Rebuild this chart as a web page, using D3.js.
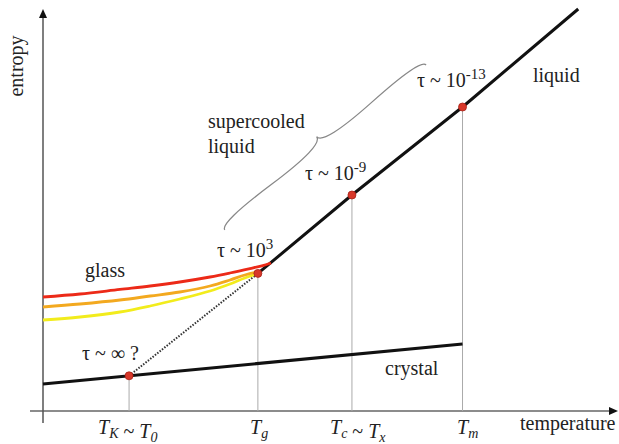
<!DOCTYPE html>
<html>
<head>
<meta charset="utf-8">
<script src="https://cdn.jsdelivr.net/npm/d3@7"></script>
<style>
  body { margin: 0; background: #fff; }
  svg text { font-family: "Liberation Serif", "Times New Roman", Times, "DejaVu Serif", serif; fill: #222; }
</style>
</head>
<body>
<script>
// temperature / entropy in arbitrary units (0..100 on both axes)
var tickNames = ['TK', 'Tg', 'Tc', 'Tm'];
var tickTemps = [15.1, 37.7, 54.2, 73.6];

var liquidT = [37.7, 54.2, 73.6, 93.9];
var liquidS = [34.4, 54.0, 76.0, 100.5];

var crystalT = [0, 73.6];
var crystalS = [6.75, 16.75];

var dotT = [15.1, 37.7, 54.2, 73.6];
var dotS = [8.8, 34.4, 54.0, 76.0];

var redT = [0, 6.5, 13.5, 18.8, 24, 29.3, 32.8, 36.3, 38.4, 40.0];
var redS = [28.5, 29.25, 30.4, 31.25, 32.25, 33.5, 34.5, 35.6, 36.3, 37.0];
var orangeT = [0, 6.5, 13.5, 18.8, 24, 29.3, 32.8, 35.4, 37.5];
var orangeS = [26, 26.75, 27.75, 28.75, 29.75, 31.25, 32.75, 34, 34.75];
var yellowT = [0, 6.5, 13.5, 18.8, 24, 29.3, 32.8, 35.4, 37.4];
var yellowS = [22.75, 23.5, 24.75, 26.25, 28, 30, 31.75, 33.25, 34.25];

var tauLabels = ['∞ ?', '10', '10', '10'];
var tauExps = ['', '3', '-9', '-13'];

var svg = d3.select('body').append('svg')
    .attr('width', 619)
    .attr('height', 444)
    .attr('font-family', '"Liberation Serif", "Times New Roman", serif');

var x = d3.scaleLinear().domain([0, 100]).range([43, 613]);
var y = d3.scaleLinear().domain([0, 100]).range([411, 11]);

function zip(a, b) { return a.map(function(v, i) { return [v, b[i]]; }); }

var line = d3.line()
    .x(function(d) { return x(d[0]); })
    .y(function(d) { return y(d[1]); });
var smooth = d3.line()
    .x(function(d) { return x(d[0]); })
    .y(function(d) { return y(d[1]); })
    .curve(d3.curveCatmullRom);

// axes
svg.append('line')
    .attr('x1', 30).attr('x2', 612)
    .attr('y1', y(0)).attr('y2', y(0))
    .attr('stroke', '#666').attr('stroke-width', 1.3);
svg.append('path')
    .attr('d', 'M618,' + y(0) + ' l-9,-4 l0,8 z')
    .attr('fill', '#111');
svg.append('line')
    .attr('x1', x(0)).attr('x2', x(0))
    .attr('y1', 16).attr('y2', 423)
    .attr('stroke', '#555').attr('stroke-width', 1.5);
svg.append('path')
    .attr('d', 'M' + x(0) + ',9 l-4,9 l8,0 z')
    .attr('fill', '#111');

// drop lines
svg.selectAll('.drop').data(tickTemps).enter().append('line')
    .attr('class', 'drop')
    .attr('x1', function(d) { return x(d); })
    .attr('x2', function(d) { return x(d); })
    .attr('y1', function(d, i) { return y(dotS[i]); })
    .attr('y2', y(0))
    .attr('stroke', '#aaa').attr('stroke-width', 1);

// crystal
svg.append('path')
    .attr('d', line(zip(crystalT, crystalS)))
    .attr('fill', 'none').attr('stroke', '#111').attr('stroke-width', 3);

// ideal glass (dotted)
svg.append('path')
    .attr('d', line([[dotT[0], dotS[0]], [dotT[1], dotS[1]]]))
    .attr('fill', 'none').attr('stroke', '#333').attr('stroke-width', 2)
    .attr('stroke-dasharray', '1.5,1.5');

// liquid
svg.append('path')
    .attr('d', line(zip(liquidT, liquidS)))
    .attr('fill', 'none').attr('stroke', '#111').attr('stroke-width', 3);

// glasses
[[yellowT, yellowS, '#f2ec1c'], [orangeT, orangeS, '#f3a91f'], [redT, redS, '#ec2a18']].forEach(function(g) {
    svg.append('path')
        .attr('d', smooth(zip(g[0], g[1])))
        .attr('fill', 'none').attr('stroke', g[2]).attr('stroke-width', 2.8);
});

// dots
svg.selectAll('.dot').data(zip(dotT, dotS)).enter().append('circle')
    .attr('class', 'dot')
    .attr('cx', function(d) { return x(d[0]); })
    .attr('cy', function(d) { return y(d[1]); })
    .attr('r', 4)
    .attr('fill', '#d8382a').attr('stroke', '#a82218').attr('stroke-width', 0.8);

// brace over the supercooled part
function brace(x1, y1, x2, y2, w, q) {
    var dx = x1 - x2, dy = y1 - y2;
    var len = Math.sqrt(dx * dx + dy * dy);
    dx = dx / len; dy = dy / len;
    var qx1 = x1 + q * w * dy, qy1 = y1 - q * w * dx;
    var qx2 = (x1 - .25 * len * dx) + (1 - q) * w * dy, qy2 = (y1 - .25 * len * dy) - (1 - q) * w * dx;
    var tx1 = (x1 - .5 * len * dx) + w * dy, ty1 = (y1 - .5 * len * dy) - w * dx;
    var qx3 = x2 + q * w * dy, qy3 = y2 - q * w * dx;
    var qx4 = (x1 - .75 * len * dx) + (1 - q) * w * dy, qy4 = (y1 - .75 * len * dy) - (1 - q) * w * dx;
    return 'M' + x1 + ',' + y1 + ' Q' + qx1 + ',' + qy1 + ' ' + qx2 + ',' + qy2 + ' T' + tx1 + ',' + ty1 +
        ' M' + x2 + ',' + y2 + ' Q' + qx3 + ',' + qy3 + ' ' + qx4 + ',' + qy4 + ' T' + tx1 + ',' + ty1;
}
svg.append('path')
    .attr('d', brace(x(67.2), y(86.5), x(31.9), y(45.3), 14, 0.6))
    .attr('fill', 'none').attr('stroke', '#888').attr('stroke-width', 1.3);

// tau labels
var tauPos = [[82, 360], [217, 257], [305, 180], [417, 87]];
tauPos.forEach(function(p, i) {
    var t = svg.append('text')
        .attr('x', p[0]).attr('y', p[1])
        .attr('font-size', 20);
    t.append('tspan').text('τ ~ ' + tauLabels[i]);
    if (tauExps[i]) {
        t.append('tspan').attr('dy', -8).attr('font-size', 15).text(tauExps[i]);
    }
});

// words
var words = [['glass', 85, 277], ['supercooled', 208, 128], ['liquid', 208, 153],
    ['liquid', 533, 82], ['crystal', 385, 375], ['temperature', 520, 430]];
words.forEach(function(w) {
    svg.append('text')
        .attr('x', w[1]).attr('y', w[2])
        .attr('font-size', 20)
        .text(w[0]);
});

svg.append('text')
    .attr('transform', 'translate(23,66) rotate(-90)')
    .attr('text-anchor', 'middle')
    .attr('font-size', 20)
    .text('entropy');

// tick labels (italic T with subscripts)
var tickParts = [[['T', 'K'], [' ~ '], ['T', '0']], [['T', 'g']], [['T', 'c'], [' ~ '], ['T', 'x']], [['T', 'm']]];
var tickStart = [98, 250, 330, 457];
tickParts.forEach(function(parts, i) {
    var t = svg.append('text')
        .attr('x', tickStart[i]).attr('y', 434)
        .attr('font-size', 20)
        .attr('font-style', 'italic');
    parts.forEach(function(p) {
        if (p.length == 1) {
            t.append('tspan').attr('font-style', 'normal').text(p[0]);
        } else {
            t.append('tspan').text(p[0]);
            t.append('tspan').attr('dy', 4).attr('font-size', 14).text(p[1]);
            t.append('tspan').attr('dy', -4).text('');
        }
    });
});
</script>
</body>
</html>
